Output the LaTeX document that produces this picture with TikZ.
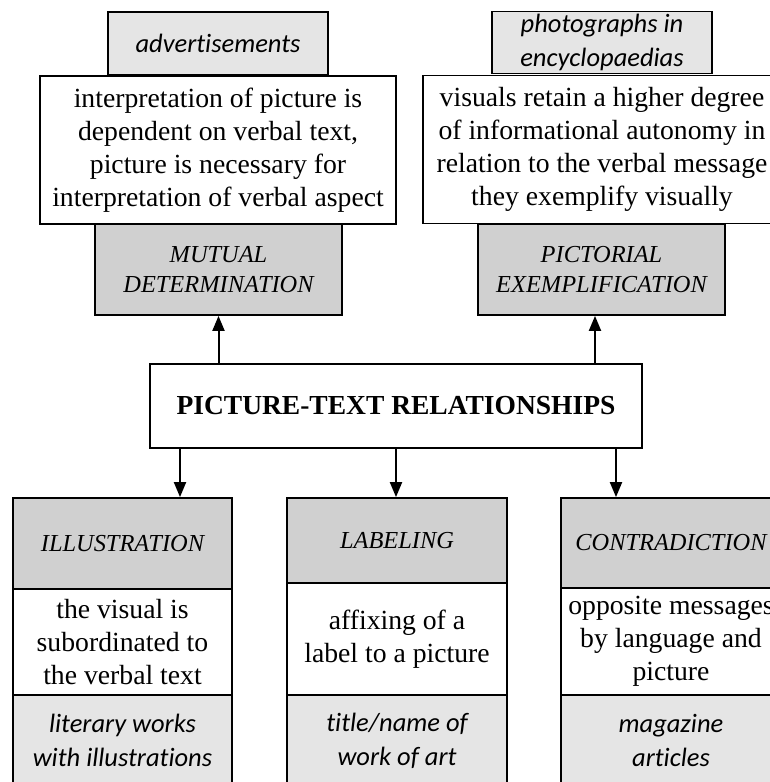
\documentclass[tikz,border=0pt]{standalone}
\usepackage{fontspec}
\setmainfont{Liberation Serif}
\newfontfamily\exfont[Ligatures=NoCommon]{Carlito}
\usetikzlibrary{arrows.meta}
\definecolor{lgray}{RGB}{229,229,229}
\definecolor{dgray}{RGB}{208,208,208}
\begin{document}
\begin{tikzpicture}[x=1pt,y=-1pt,
  box/.style={draw=black, line width=1.8pt, inner sep=0pt, align=center},
  descr/.style={box, fill=white, font=\fontsize{27.7}{33}\selectfont},
  head/.style={box, fill=dgray, font=\fontsize{24.4}{30}\selectfont\itshape},
  ex/.style={box, fill=lgray, font=\fontsize{26.5}{34}\selectfont\exfont\itshape},
  titlebox/.style={box, fill=white, font=\fontsize{27.5}{33}\selectfont\bfseries},
  arr/.style={line width=2pt, -{Triangle[length=15pt,width=12pt]}}]
\useasboundingbox (0,0) rectangle (770,782);
\clip (0,0) rectangle (770,782);
\fill[white] (0,0) rectangle (770,782);

% top left
\node[ex, minimum width=220pt, minimum height=63pt] (adv) at (218,43.5) {advertisements};
\node[descr, minimum width=356pt, minimum height=148pt] (mdesc) at (218,150)
  {interpretation of picture is\\dependent on verbal text,\\picture is necessary for\\interpretation of verbal aspect};
\node[head, minimum width=247pt, minimum height=91pt] (mut) at (218.5,269.5) {MUTUAL\\DETERMINATION};

% top right
\node[ex, minimum width=220pt, minimum height=62pt] (photo) at (602,42.5) {photographs in\\encyclopaedias};
\node[descr, minimum width=358pt, minimum height=148pt] (pdesc) at (602,149.5)
  {visuals retain a higher degree\\of informational autonomy in\\relation to the verbal message\\they exemplify visually};
\node[head, minimum width=247pt, minimum height=91pt] (pic) at (601.5,269.5) {PICTORIAL\\EXEMPLIFICATION};

% centre
\node[titlebox, minimum width=492pt, minimum height=84pt] (ptr) at (396,406) {PICTURE-TEXT RELATIONSHIPS};

% bottom left
\node[head, minimum width=219pt, minimum height=91pt] (illh) at (122.5,543.5) {ILLUSTRATION};
\node[descr, minimum width=219pt, minimum height=106pt] (illd) at (122.5,642) {the visual is\\subordinated to\\the verbal text};
\node[ex, minimum width=219pt, minimum height=91pt] (ille) at (122.5,740.5) {literary works\\with illustrations};

% bottom middle
\node[head, minimum width=220pt, minimum height=85pt] (labh) at (397,540.5) {LABELING};
\node[descr, minimum width=220pt, minimum height=112pt] (labd) at (397,639) {affixing of a\\label to a picture};
\node[ex, minimum width=220pt, minimum height=91pt] (labe) at (397,740.5) {title/name of\\work of art};

% bottom right
\node[head, minimum width=220pt, minimum height=90pt] (conh) at (671,543) {CONTRADICTION};
\node[descr, minimum width=220pt, minimum height=107pt] (cond) at (671,641.5) {opposite messages\\by language and\\picture};
\node[ex, minimum width=220pt, minimum height=91pt] (cone) at (671,740.5) {magazine\\articles};

% arrows
\coordinate (u1) at (218.5,364);
\coordinate (u2) at (595,364);
\draw[arr] (u1) -- (u1 |- mut.south);
\draw[arr] (u2) -- (u2 |- pic.south);
\coordinate (d1) at (180,448);
\coordinate (d2) at (396,448);
\coordinate (d3) at (616,448);
\draw[arr] (d1) -- (d1 |- illh.north);
\draw[arr] (d2) -- (d2 |- labh.north);
\draw[arr] (d3) -- (d3 |- conh.north);
\end{tikzpicture}
\end{document}
